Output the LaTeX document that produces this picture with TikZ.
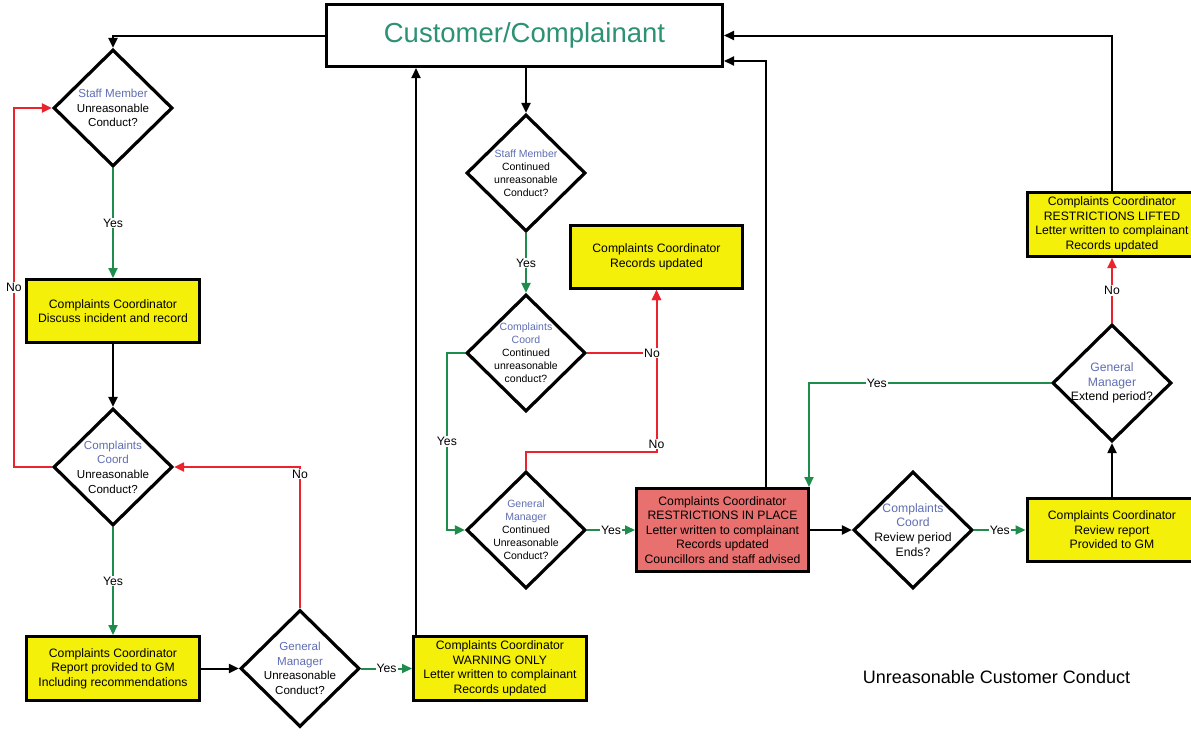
\documentclass[tikz,border=0pt]{standalone}
\usepackage{fontspec}
\setmainfont{Liberation Sans}
\usetikzlibrary{shapes.geometric,arrows.meta,calc}
\definecolor{boxyellow}{RGB}{245,240,10}
\definecolor{boxred}{RGB}{232,112,110}
\definecolor{lgreen}{RGB}{30,140,75}
\definecolor{lred}{RGB}{235,35,45}
\definecolor{qblue}{RGB}{95,110,180}
\definecolor{ttl}{RGB}{45,145,115}
\tikzset{
  box/.style={draw=black, line width=3pt, fill=boxyellow, align=center, inner sep=2pt,
    font=\fontsize{12.2}{14.6}\selectfont},
  dia/.style={draw=black, line width=3.2pt, diamond, inner sep=0pt,
    minimum width=119pt, minimum height=117pt},
  dlabA/.style={align=center, inner sep=0pt, font=\fontsize{11.6}{14.6}\selectfont},
  dlabB/.style={align=center, inner sep=0pt, font=\fontsize{10.5}{12.9}\selectfont},
  dlabC/.style={align=center, inner sep=0pt, font=\fontsize{12.2}{14.8}\selectfont},
  arr/.style={line width=2pt, draw=black, -{Triangle[length=10pt,width=9pt]}},
  garr/.style={arr, draw=lgreen},
  rarr/.style={arr, draw=lred},
  lab/.style={fill=white, inner sep=1pt, text=black, font=\fontsize{12.2}{14}\selectfont}
}
\begin{document}
\begin{tikzpicture}[x=1pt,y=-1pt]
\clip (0,0) rectangle (1191,736);
\fill[white] (0,0) rectangle (1191,736);

% main box
\node[draw=black, line width=3pt, minimum width=396pt, minimum height=62pt,
  font=\fontsize{27.5}{30}\selectfont, text=ttl] (cust) at (524.5,35.5) {Customer/Complainant};

% left column
\node[dia, label={[dlabA]center:{{\color{qblue}Staff Member}\\Unreasonable\\Conduct?}}] (d1) at (113,108) {};
\node[box, minimum width=173pt, minimum height=63pt] (b2) at (113,311)
  {Complaints Coordinator\\Discuss incident and record};
\node[dia, label={[dlabA]center:{{\color{qblue}Complaints}\\{\color{qblue}Coord}\\Unreasonable\\Conduct?}}] (d3) at (113,467) {};
\node[box, minimum width=173pt, minimum height=64pt] (b4) at (113,668.5)
  {Complaints Coordinator\\Report provided to GM\\Including recommendations};
\node[dia, label={[dlabA]center:{{\color{qblue}General}\\{\color{qblue}Manager}\\Unreasonable\\Conduct?}}] (d5) at (300,668.5) {};
\node[box, minimum width=173pt, minimum height=64pt] (b6) at (500,668.5)
  {Complaints Coordinator\\WARNING ONLY\\Letter written to complainant\\Records updated};

% middle column
\node[dia, label={[dlabB]center:{{\color{qblue}Staff Member}\\Continued\\unreasonable\\Conduct?}}] (d7) at (526,173) {};
\node[dia, label={[dlabB]center:{{\color{qblue}Complaints}\\{\color{qblue}Coord}\\Continued\\unreasonable\\conduct?}}] (d8) at (526,353) {};
\node[box, minimum width=172pt, minimum height=63pt] (b9) at (656.5,257)
  {Complaints Coordinator\\Records updated};
\node[dia, label={[dlabB]center:{{\color{qblue}General}\\{\color{qblue}Manager}\\Continued\\Unreasonable\\Conduct?}}] (d10) at (526,530) {};
\node[box, fill=boxred, minimum width=172pt, minimum height=83pt] (b11) at (722.5,530)
  {Complaints Coordinator\\RESTRICTIONS IN PLACE\\Letter written to complainant\\Records updated\\Councillors and staff advised};

% right column
\node[box, minimum width=170pt, minimum height=64pt] (b12) at (1112,224.5)
  {Complaints Coordinator\\RESTRICTIONS LIFTED\\Letter written to complainant\\Records updated};
\node[dia, label={[dlabC]center:{{\color{qblue}General}\\{\color{qblue}Manager}\\Extend period?}}] (d13) at (1112,383) {};
\node[dia, label={[dlabC]center:{{\color{qblue}Complaints}\\{\color{qblue}Coord}\\Review period\\Ends?}}] (d14) at (913,530) {};
\node[box, minimum width=170pt, minimum height=63pt] (b15) at (1112,530)
  {Complaints Coordinator\\Review report\\Provided to GM};

\node[font=\fontsize{18}{20}\selectfont] (title) at (996.5,677) {Unreasonable Customer Conduct};

% connectors
\draw[arr] (cust.west) -| (d1.north);
\draw[garr] (d1.south) -- node[lab]{Yes} (b2.north);
\draw[arr] (b2.south) -- (d3.north);
\draw[rarr] (d3.west) -- ++(-38,0) |- node[lab,pos=0.25]{No} (d1.west);
\draw[garr] (d3.south) -- node[lab]{Yes} (b4.north);
\draw[arr] (b4.east) -- (d5.west);
\draw[rarr] (d5.north) -- node[lab,pos=0.95]{No} (d5.north |- d3.east) -- (d3.east);
\draw[garr] (d5.east) -- node[lab]{Yes} (b6.west);
\draw[arr] ([xshift=4pt]b6.north west) -- ([xshift=4pt]b6.north west |- cust.south);

\draw[arr] (cust.south -| d7.north) -- (d7.north);
\draw[garr] (d7.south) -- node[lab]{Yes} (d8.north);
\draw[rarr] (d8.east) -| (b9.south);
\coordinate (j2) at (656.5,452);
\draw[rarr] (d10.north) |- (j2) -- (b9.south);
\node[lab] (no1) at (652,353) {No};
\node[lab] (no2) at (656.5,444) {No};
\draw[garr] (d8.west) -- ++(-18,0) |- node[lab,pos=0.25]{Yes} (d10.west);
\draw[garr] (d10.east) -- node[lab]{Yes} (b11.west);
\draw[arr] ([xshift=43pt]b11.north) |- ([yshift=7pt]cust.south east);

\draw[arr] (b12.north) |- (cust.east);
\draw[rarr] (d13.north) -- node[lab]{No} (b12.south);
\draw[garr] (d13.west) -| node[lab,pos=0.36]{Yes} ([xshift=-1pt]b11.north east);
\draw[arr] (b11.east) -- (d14.west);
\draw[garr] (d14.east) -- node[lab]{Yes} (b15.west);
\draw[arr] (b15.north) -- (d13.south);
\end{tikzpicture}
\end{document}
